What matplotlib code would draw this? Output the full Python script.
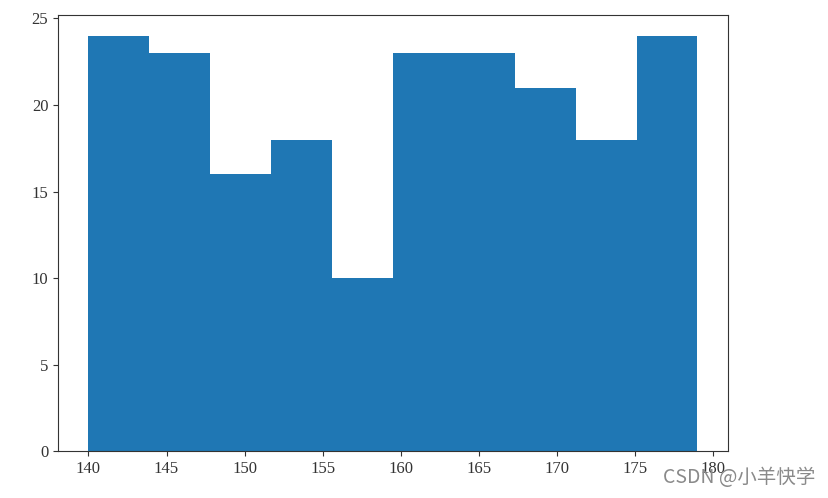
import numpy as np
import matplotlib
matplotlib.use("Agg")
import matplotlib.pyplot as plt

# histogram of heights: 10 bins between 140 and 179
bin_edges = np.linspace(140, 179, 11)
counts = [24, 23, 16, 18, 10, 23, 23, 21, 18, 24]

plt.rcParams['font.family'] = ['Liberation Serif', 'DejaVu Serif']

fig = plt.figure(figsize=(8.29, 4.98), dpi=100)
ax = fig.add_axes([0.07, 0.094, 0.808, 0.876])

ax.stairs(counts, bin_edges, fill=True, color='#1f77b4')
ax.set_xlim(138.05, 180.95)
ax.set_ylim(0, 25.2)
ax.set_xticks([140, 145, 150, 155, 160, 165, 170, 175, 180])
ax.set_yticks([0, 5, 10, 15, 20, 25])
ax.tick_params(labelsize=12, colors='#333333')
for s in ax.spines.values():
    s.set_color('#333333')

# watermark (overlaps the 180 label, as in the original)
fig.text(0.983, 0.042, "CSDN @小羊快学", ha='right', va='center',
         fontsize=14, color='#8a8a8a', family=['Noto Sans CJK SC', 'DejaVu Sans'])

fig.savefig("out.png", dpi=100)
